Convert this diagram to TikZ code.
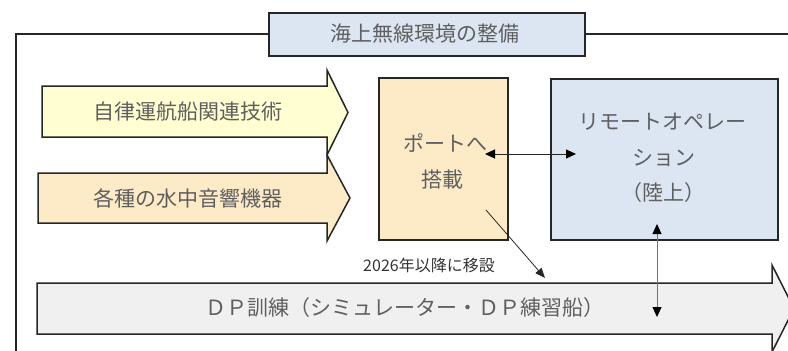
\documentclass[tikz,border=0pt]{standalone}
\usepackage{fontspec}
\setmainfont{Noto Sans CJK JP}
\usetikzlibrary{arrows.meta}
\definecolor{txtgray}{HTML}{5F5F5F}
\definecolor{lineblk}{HTML}{262626}
\definecolor{boxblue}{HTML}{DCE6F3}
\definecolor{arryellow}{HTML}{FFFFD2}
\definecolor{arrorange}{HTML}{FDEBC8}
\definecolor{arrgray}{HTML}{F0F0F0}
\tikzset{
  outline/.style={draw=lineblk, line width=1.5pt, line join=miter},
  lbl/.style={font=\fontsize{21}{24}\selectfont, text=txtgray, inner sep=0pt},
  smalllbl/.style={font=\fontsize{16}{19}\selectfont, text=black!80, inner sep=0pt},
  conn/.style={draw=lineblk, line width=0.9pt, {Triangle[length=10pt,width=9pt,color=black]}-{Triangle[length=10pt,width=9pt,color=black]}},
}
\begin{document}
\begin{tikzpicture}[x=1pt,y=-1pt]
\useasboundingbox (0,0) rectangle (788,351);
\begin{scope}
\clip (0,0) rectangle (788,351);
% frame
\draw[outline] (268,34) -- (16,34) -- (16,360);
\draw[outline] (584,34) -- (800,34);
% title
\node[outline, fill=boxblue, minimum width=316pt, minimum height=43pt, anchor=north west, inner sep=0pt] (title) at (268,12) {};
\node[lbl] (titletxt) at (425,34) {海上無線環境の整備};
% arrow 1
\filldraw[outline, fill=arryellow] (42,86) -- (327,86) -- (327,70) -- (348,112.5) -- (327,155) -- (327,137) -- (42,137) -- cycle;
\node[lbl] (a1) at (188,112) {自律運航船関連技術};
% arrow 2
\filldraw[outline, fill=arrorange] (38,173) -- (327,173) -- (327,155) -- (350,198) -- (327,241) -- (327,223) -- (38,223) -- cycle;
\node[lbl] (a2) at (188,198) {各種の水中音響機器};
% DP arrow
\filldraw[outline, fill=arrgray] (37,283) -- (772,283) -- (772,265) -- (794,308.5) -- (772,352) -- (772,334) -- (37,334) -- cycle;
\node[lbl] (dp) at (405,308) {ＤＰ訓練（シミュレーター・ＤＰ練習船）};
% boxes
\node[outline, fill=arrorange, minimum width=129pt, minimum height=162pt, anchor=north west, inner sep=0pt] (port) at (378,77) {};
\node[lbl] (port1) at (445,143) {ポートへ};
\node[lbl] (port2) at (442.5,180) {搭載};
\node[outline, fill=boxblue, minimum width=227pt, minimum height=161pt, anchor=north west, inner sep=0pt] (remote) at (550,78) {};
\node[lbl] (r1) at (662,122) {リモートオペレー};
\node[lbl] (r2) at (663.5,158) {ション};
\node[lbl] (r3) at (663.5,193) {（陸上）};
% connectors
\coordinate (hl) at (485,154);
\coordinate (hr) at (576,154);
\draw[conn] (hl) -- (hr);
\coordinate (vt) at (657,224);
\coordinate (vb) at (657,317);
\draw[conn, draw=black!55] (vt) -- (vb);
\coordinate (ds) at (486,210);
\coordinate (de) at (545,278);
\draw[draw=lineblk, line width=0.8pt, -{Triangle[length=10pt,width=8pt]}] (ds) -- (de);
\node[smalllbl] (note) at (429,265) {2026年以降に移設};
\end{scope}
\end{tikzpicture}
\end{document}
